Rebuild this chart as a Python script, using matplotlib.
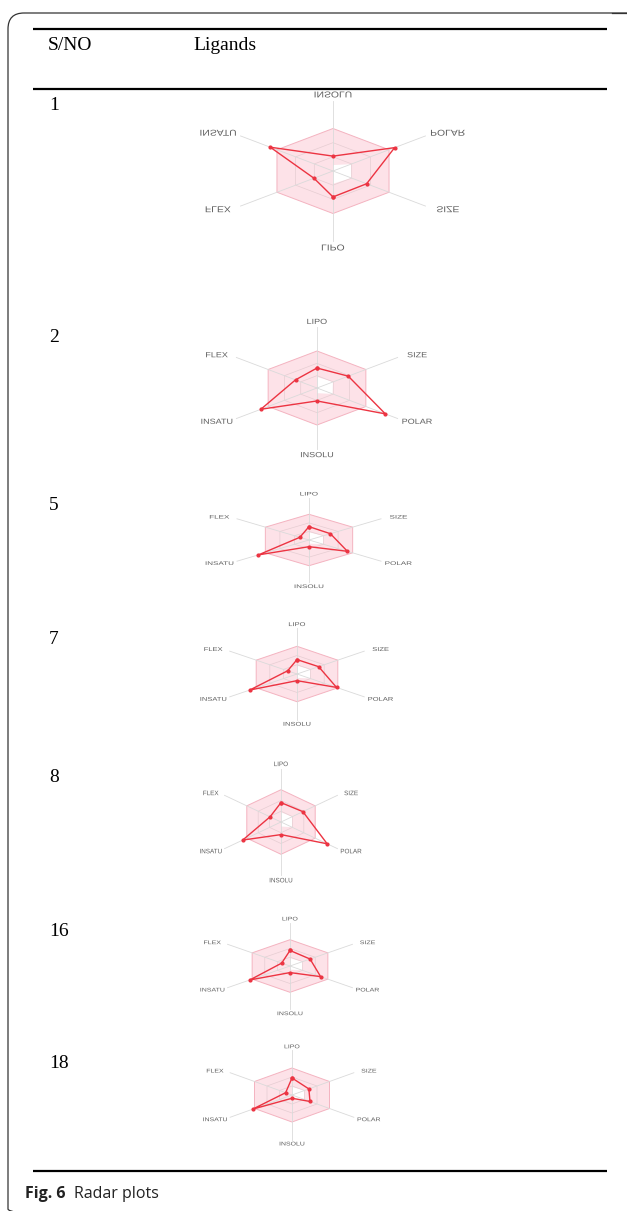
import numpy as np
import matplotlib.pyplot as plt
import matplotlib.transforms as mtransforms
from matplotlib.patches import FancyBboxPatch, Polygon, PathPatch
from matplotlib.textpath import TextPath
from matplotlib.font_manager import FontProperties

W, H, DPI = 627, 1211, 100

# bioavailability radar, one row per ligand
axes_names = ['LIPO', 'SIZE', 'POLAR', 'INSOLU', 'INSATU', 'FLEX']
ligand_ids = ['1', '2', '5', '7', '8', '16', '18']
lipo = [0.61, 0.54, 0.52, 0.52, 0.60, 0.59, 0.63]
size = [0.60, 0.64, 0.49, 0.53, 0.64, 0.53, 0.45]
polar = [1.10, 1.40, 0.88, 0.97, 1.35, 0.81, 0.48]
insolu = [0.35, 0.35, 0.26, 0.24, 0.39, 0.25, 0.12]
insatu = [1.12, 1.15, 1.16, 1.16, 1.12, 1.06, 1.05]
flex = [0.34, 0.44, 0.21, 0.23, 0.32, 0.22, 0.17]

# optimal physicochemical range (pink band), same scale
range_low = [0.30, 0.33, 0.32, 0.14, 0.0, 0.0]
range_high = [1.0, 1.0, 1.0, 1.0, 1.0, 1.0]

# panel placement: centre x, centre y (px from top), px per unit (vertical, horizontal), upside down
panels = [
    (333, 171, 42.5, 64.7, True),
    (317, 388, 37.0, 56.4, False),
    (309, 540, 25.7, 50.4, False),
    (297, 674, 27.7, 47.1, False),
    (281, 822, 32.3, 39.5, False),
    (290, 966, 26.3, 43.7, False),
    (292, 1095, 27.0, 43.3, False),
]
row_y = [105, 338, 505, 640, 778, 932, 1063]

ang = np.deg2rad(np.arange(6) * 60)
label_font = FontProperties(family='Liberation Sans')


def hexpts(r):
    r = np.asarray(r, dtype=float)
    return np.column_stack([r * np.sin(ang), r * np.cos(ang)])


def draw_label(ax, text, x, y, em_px, stretch, flip):
    tp = TextPath((0, 0), text, size=1, prop=label_font)
    bb = tp.get_extents()
    tr = (mtransforms.Affine2D()
          .translate(-(bb.x0 + bb.x1) / 2, -(bb.y0 + bb.y1) / 2)
          .scale(em_px * stretch, -em_px if flip else em_px)
          + mtransforms.ScaledTranslation(x, y, ax.transData))
    ax.add_patch(PathPatch(tp, transform=tr, fc='#5e5e5e', lw=0, clip_on=False))


fig = plt.figure(figsize=(W / DPI, H / DPI), dpi=DPI)
page = fig.add_axes([0, 0, 1, 1])
page.set_xlim(0, W)
page.set_ylim(H, 0)
page.axis('off')

# frame and table rules
page.add_patch(FancyBboxPatch((8, 13), 700, 1212, boxstyle='round,pad=0,rounding_size=16',
                              fc='none', ec='#333333', lw=0.9))
page.plot([612, 627], [13, 13], color='#333333', lw=0.9)
for yy in (29, 89, 1171):
    page.plot([33, 607], [yy, yy], color='black', lw=1.6, solid_capstyle='butt')

page.text(48, 46, 'S/NO', family='Liberation Serif', fontsize=14, va='center')
page.text(193, 46, 'Ligands', family='Liberation Serif', fontsize=14, va='center')
for lid, yy in zip(ligand_ids, row_y):
    page.text(49, yy, lid, family='Liberation Serif', fontsize=14, va='center')

cap = page.text(25, 1194, 'Fig. 6', family='Open Sans', fontweight='bold', fontsize=11.5,
                va='center', color='#222222')
page.annotate('Radar plots', xy=(1, 0.5), xycoords=cap, xytext=(6, 0),
              textcoords='offset points', family='Open Sans', fontsize=11.5,
              va='center', color='#222222')

Lx, Ly = 2.5, 2.1
for i, (cx, cy, rv, sx, flip) in enumerate(panels):
    wpx, hpx = 2 * Lx * sx, 2 * Ly * rv
    ax = fig.add_axes([(cx - Lx * sx) / W, (H - cy - Ly * rv) / H, wpx / W, hpx / H])
    ax.set_xlim(-Lx, Lx)
    ax.set_ylim((Ly, -Ly) if flip else (-Ly, Ly))
    ax.axis('off')

    ax.add_patch(Polygon(hexpts(range_high), closed=True, fc='#fde2e8', ec='#f4b3c0', lw=0.7, zorder=1))
    ax.add_patch(Polygon(hexpts(range_low), closed=True, fc='white', ec='none', zorder=2))
    for g in (1 / 3, 2 / 3):
        ax.add_patch(Polygon(hexpts([g] * 6), closed=True, fill=False,
                             ec='#e6cdd2', lw=0.5, zorder=3))
    for a in ang:
        ax.plot([0, 1.65 * np.sin(a)], [0, 1.65 * np.cos(a)], color='#dadada', lw=0.6, zorder=3)

    vals = [lipo[i], size[i], polar[i], insolu[i], insatu[i], flex[i]]
    pts = hexpts(vals)
    pts = np.vstack([pts, pts[:1]])
    ax.plot(pts[:, 0], pts[:, 1], color='#ec3442', lw=1.0, marker='o', ms=2.0, zorder=5)

    em = 0.2 * rv
    stretch = sx / rv * 0.8
    for name, a in zip(axes_names, ang):
        if name in ('LIPO', 'INSOLU'):
            lx, ly = 0, 1.8 * np.cos(a)
        else:
            lx, ly = 2.05 * np.sin(a), 1.8 * np.cos(a)
        draw_label(ax, name, lx, ly, em, stretch, flip)

fig.savefig('out.png', dpi=DPI, facecolor='white')
